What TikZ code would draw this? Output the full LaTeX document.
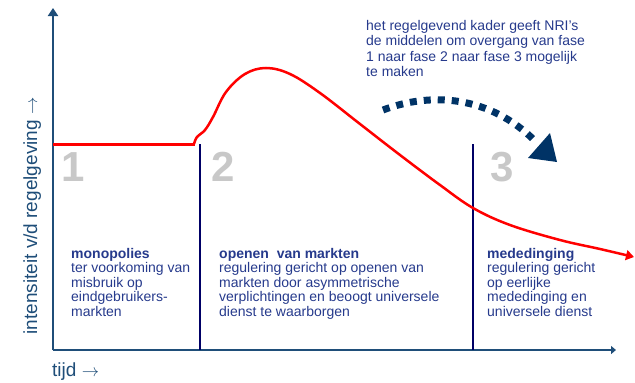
\documentclass[tikz,border=0pt]{standalone}
\usepackage{fontspec}
\setmainfont{Liberation Sans}
\usetikzlibrary{arrows.meta}
\definecolor{axisblue}{HTML}{1F4E79}
\definecolor{divnavy}{HTML}{000066}
\definecolor{txtblue}{HTML}{263A8C}
\definecolor{numgray}{HTML}{C8C8C8}
\definecolor{dotblue}{HTML}{003366}
\definecolor{curvered}{HTML}{FF0000}
\tikzset{
  axisline/.style={draw=axisblue, line width=2pt},
  divider/.style={draw=divnavy, line width=2.8pt},
  phasenum/.style={text=numgray, font=\fontsize{42}{42}\selectfont\bfseries, inner sep=0pt},
  desc/.style={text=txtblue, font=\fontsize{14}{14.5}\selectfont, align=left, anchor=north west, inner sep=0pt},
  note/.style={text=txtblue, font=\fontsize{14}{15.5}\selectfont, align=left, anchor=north west, inner sep=0pt},
  axlabel/.style={text=axisblue, font=\fontsize{19}{19}\selectfont, inner sep=0pt}
}
\begin{document}
\begin{tikzpicture}[x=1pt,y=-1pt]
\useasboundingbox (0,0) rectangle (635,383);
% axes
\coordinate (origin) at (53,350);
\coordinate (ytop) at (53,8);
\coordinate (xend) at (616,350);
\draw[axisline, -{Triangle[length=8pt,width=10pt]}] (origin) -- (ytop);
\draw[axisline, -{Triangle[length=5pt,width=8pt]}] (origin) -- (xend);
% dividers
\coordinate (d1t) at (200,144); \coordinate (d1b) at (200,350);
\coordinate (d2t) at (473,144); \coordinate (d2b) at (473,350);
\draw[divider] (d1t) -- (d1b);
\draw[divider] (d2t) -- (d2b);
% red curve
\draw[curvered, line width=3pt] (53,144) -- (195,144);
\draw[curvered, line width=2.5pt, -{Triangle[length=8pt,width=10pt]}]
  plot[smooth, tension=0.6] coordinates {(194,144) (197,137) (205,130) (213,117) (226,92) (245,74) (266,68) (290,74) (320,93) (360,124) (400,155) (440,185) (473,208) (510,225) (560,240) (600,249) (634,257)};
% dotted arrow
\draw[dotblue, line width=7pt, dash pattern=on 7pt off 7pt] (383,110) .. controls (430,92) and (490,95) .. (536,142);
\fill[dotblue] (528,158) -- (550,133) -- (557,162) -- cycle;
% phase numbers
\node[phasenum] (n1) at (73,167) {1};
\node[phasenum] (n2) at (223,167) {2};
\node[phasenum] (n3) at (502,167) {3};
% texts
\node[note] (topnote) at (366,20) {het regelgevend kader geeft NRI’s\\de middelen om overgang van fase\\1 naar fase 2 naar fase 3 mogelijk\\te maken};
\node[desc] (t1) at (71,248) {\textbf{monopolies}\\ter voorkoming van\\misbruik op\\eindgebruikers-\\markten};
\node[desc] (t2) at (219,248) {\textbf{openen\ \ van markten}\\regulering gericht op openen van\\markten door asymmetrische\\verplichtingen en beoogt universele\\dienst te waarborgen};
\node[desc] (t3) at (487,248) {\textbf{mededinging}\\regulering gericht\\op eerlijke\\mededinging en\\universele dienst};
% axis labels
\node[axlabel, rotate=90, anchor=base] (ylab) at (37,216) {intensiteit v/d regelgeving $\rightarrow$};
\node[axlabel, anchor=base west] (xlab) at (52,376) {tijd $\rightarrow$};
\end{tikzpicture}
\end{document}
